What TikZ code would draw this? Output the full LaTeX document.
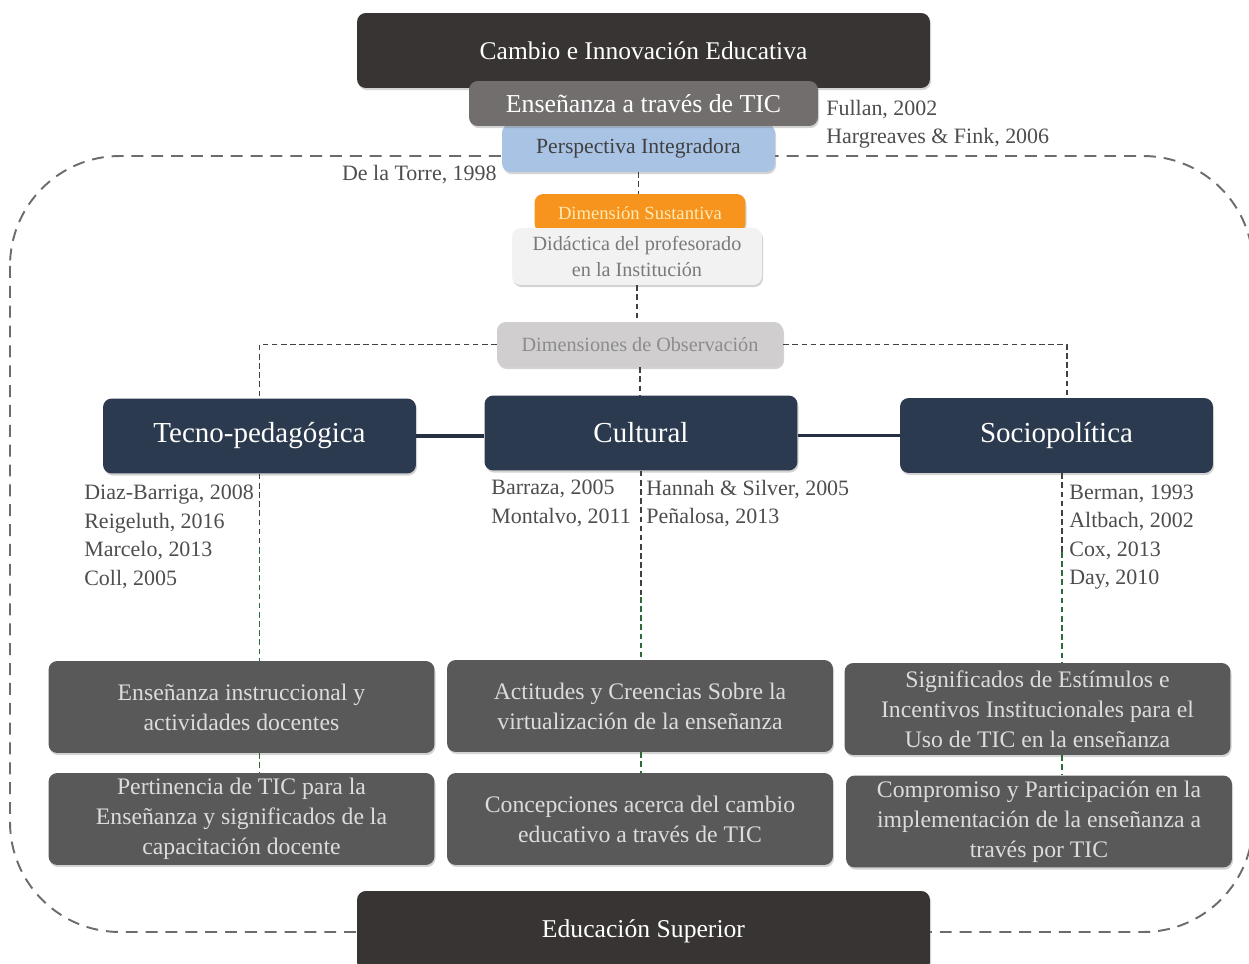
\documentclass[tikz,border=0pt]{standalone}
\usepackage{fontspec}
\setmainfont{Liberation Serif}
\usetikzlibrary{shadows}
\definecolor{darkbrown}{HTML}{383433}
\definecolor{midgray}{HTML}{716E6D}
\definecolor{lightblue}{HTML}{A9C3E4}
\definecolor{sustorange}{HTML}{F7941D}
\definecolor{sustext}{HTML}{FDEBB8}
\definecolor{palegray}{HTML}{F2F2F2}
\definecolor{obsgray}{HTML}{D0CECE}
\definecolor{navy}{HTML}{2C3A4F}
\definecolor{itemgray}{HTML}{595959}
\definecolor{itemtext}{HTML}{DCDCDC}
\definecolor{citegray}{HTML}{4D4D4D}
\definecolor{linkgray}{HTML}{404040}
\definecolor{linkgreen}{HTML}{2E6B3A}

\begin{document}
\begin{tikzpicture}[x=0.02cm, y=-0.02cm,
    box/.style={rounded corners=5pt, inner sep=0pt, align=center,
      drop shadow={opacity=0.35, shadow xshift=0.6pt, shadow yshift=-1.2pt}},
    dimbox/.style={box, fill=navy, text=white, minimum width=6.26cm, minimum height=1.5cm,
      font=\fontsize{16.5}{19}\selectfont},
    itembox/.style={box, fill=itemgray, text=itemtext, minimum width=7.72cm, minimum height=1.84cm,
      font=\fontsize{13.5}{17}\selectfont},
    cite/.style={text=citegray, align=left, inner sep=0pt, font=\fontsize{12.5}{16.2}\selectfont},
    link/.style={draw=linkgray, line width=1.1pt, dash pattern=on 3.2pt off 2pt},
    greenlink/.style={draw=linkgreen, line width=1.1pt, dash pattern=on 3.2pt off 2pt},
    bar/.style={draw=navy!85!black, line width=1.8pt}]
    \useasboundingbox (0,0) rectangle (1249,964);
    \clip (0,0) rectangle (1249,964);

    \draw[draw=gray!85!black, line width=1.1pt, dash pattern=on 6.8pt off 4.5pt, rounded corners=2.2cm]
      (10,156) rectangle (1253,932);

    \node[box, fill=darkbrown, text=white, minimum width=11.46cm, minimum height=1.5cm,
      font=\fontsize{14.5}{17}\selectfont] (cambio) at (643.5,50.5) {Cambio e Innovación Educativa};
    \node[box, fill=lightblue, text=black!75, minimum width=5.46cm, minimum height=0.96cm,
      font=\fontsize{12.3}{15}\selectfont] (perspectiva) at (638.5,148) {Perspectiva Integradora};
    \node[box, fill=midgray, text=white, minimum width=6.98cm, minimum height=0.9cm,
      font=\fontsize{14.7}{17}\selectfont] (ensenanza) at (643.5,103.5) {Enseñanza a través de TIC};
    \node[cite] (fullan) at (826,124) [anchor=west] {Fullan, 2002\\Hargreaves \& Fink, 2006};
    \node[cite] (torre) at (497,175) [anchor=east] {De la Torre, 1998};

    \node[box, fill=sustorange, text=sustext, minimum width=4.22cm, minimum height=0.76cm,
      font=\fontsize{10.6}{13}\selectfont] (sustantiva) at (640,213) {Dimensión Sustantiva};
    \node[box, fill=palegray, text=black!52, minimum width=5cm, minimum height=1.14cm,
      font=\fontsize{11.5}{14.7}\selectfont] (didactica) at (637,256.5) {Didáctica del profesorado\\en la Institución};
    \node[box, fill=obsgray, text=black!45, minimum width=5.72cm, minimum height=0.9cm,
      font=\fontsize{11.5}{14}\selectfont] (dimensiones) at (640,344.5) {Dimensiones de Observación};

    \node[dimbox] (tecno) at (259.5,436) {Tecno-pedagógica};
    \node[dimbox] (cultural) at (641,433) {Cultural};
    \node[dimbox] (socio) at (1056.5,435.5) {Sociopolítica};

    \node[cite] (citetecno) at (84,537) [anchor=west] {Diaz-Barriga, 2008\\Reigeluth, 2016\\Marcelo, 2013\\Coll, 2005};
    \node[cite] (citecultA) at (491,503.5) [anchor=west] {Barraza, 2005\\Montalvo, 2011};
    \node[cite] (citecultB) at (646,503.5) [anchor=west] {Hannah \& Silver, 2005\\Peñalosa, 2013};
    \node[cite] (citesocio) at (1069,537) [anchor=west] {Berman, 1993\\Altbach, 2002\\Cox, 2013\\Day, 2010};

    \node[itembox] (ensinst) at (241.5,707) {Enseñanza instruccional y\\actividades docentes};
    \node[itembox] (pertinencia) at (241.5,819) {Pertinencia de TIC para la\\Enseñanza y significados de la\\capacitación docente};
    \node[itembox] (actitudes) at (640,706) {Actitudes y Creencias Sobre la\\virtualización de la enseñanza};
    \node[itembox] (concepciones) at (640,819) {Concepciones acerca del cambio\\educativo a través de TIC};
    \node[itembox] (significados) at (1037.5,709) {Significados de Estímulos e\\Incentivos Institucionales para el\\Uso de TIC en la enseñanza};
    \node[itembox] (compromiso) at (1039,821.5) {Compromiso y Participación en la\\implementación de la enseñanza a\\través por TIC};

    \node[box, fill=darkbrown, text=white, minimum width=11.46cm, minimum height=1.6cm,
      font=\fontsize{14.6}{17}\selectfont] (superior) at (643.5,931) {Educación Superior};

    \draw[link] (perspectiva.south) -- (perspectiva.south |- sustantiva.north);
    \draw[link] (didactica.south) -- (didactica.south |- dimensiones.north);
    \draw[link] (dimensiones.west) -| (tecno.north);
    \draw[link] (dimensiones.east) -| ([xshift=6] socio.north);
    \draw[link] (dimensiones.south) -- (dimensiones.south |- cultural.north);

    \draw[bar] (tecno.east) -- (tecno.east -| cultural.west);
    \draw[bar] (socio.west) -- (socio.west -| cultural.east);

    \coordinate (tecnosplit) at (259.5,548);
    \coordinate (cultsplit) at (641,597);
    \coordinate (sociosplit) at (1062,552);
    \draw[link] (tecno.south) -- (tecnosplit);
    \draw[greenlink] (tecnosplit) -- (tecnosplit |- ensinst.north);
    \draw[link] (cultural.south) -- (cultsplit);
    \draw[greenlink] (cultsplit) -- (cultsplit |- actitudes.north);
    \draw[link] (socio.south -| sociosplit) -- (sociosplit);
    \draw[greenlink] (sociosplit) -- (sociosplit |- significados.north);

    \draw[greenlink] (ensinst.south -| tecnosplit) -- (pertinencia.north -| tecnosplit);
    \draw[greenlink] (actitudes.south -| cultsplit) -- (concepciones.north -| cultsplit);
    \draw[greenlink] (significados.south -| sociosplit) -- (compromiso.north -| sociosplit);
\end{tikzpicture}
\end{document}
